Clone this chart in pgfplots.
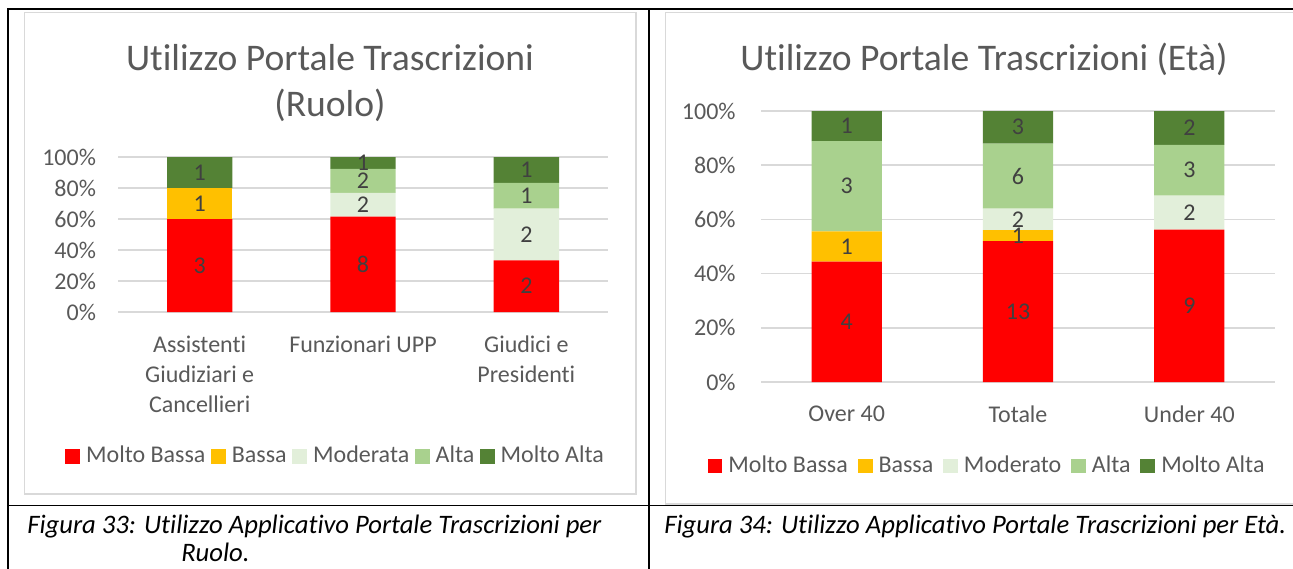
\documentclass[border=0pt]{standalone}
\usepackage{pgfplots}
\pgfplotsset{compat=1.18}
\usepackage{pgfplotstable}
\usepackage{fontspec}
\setmainfont{Carlito}[Ligatures={NoCommon}]
\definecolor{cMB}{HTML}{FF0000}
\definecolor{cB}{HTML}{FFC000}
\definecolor{cMod}{HTML}{E2EFDA}
\definecolor{cA}{HTML}{A9D18E}
\definecolor{cMA}{HTML}{548235}
\definecolor{gridgray}{HTML}{D9D9D9}
\definecolor{txtgray}{HTML}{595959}
\definecolor{lblgray}{HTML}{404040}
\newcommand\lbl{\fontsize{18}{22.5}\selectfont}

\pgfplotstableread{
x MB B Mod A MA Tot
0 3 1 0 0 1 5
1 8 0 2 2 1 13
2 2 0 2 1 1 6
}\ruolo
\pgfplotstableread{
x MB B Mod A MA Tot
0 4 1 0 3 1 9
1 13 1 2 6 3 25
2 9 0 2 3 2 16
}\eta

\pgfplotsset{
  mystack/.style={
    scale only axis,
    ybar stacked,
    xmin=-0.5, xmax=2.5, ymin=0, ymax=100,
    xtick={0,1,2},
    ytick={0,20,...,100},
    yticklabel={\pgfmathprintnumber{\tick}\%},
    /pgf/number format/assume math mode=true,
    ymajorgrids,
    grid style={draw=gridgray, line width=1.1pt},
    axis line style={draw=none},
    tick style={draw=none},
    ticklabel style={font=\lbl, text=txtgray},
    xticklabel style={align=center, yshift=-14.5pt},
    nodes near coords,
    every node near coord/.style={font=\lbl, text=lblgray, anchor=center,
      check for zero/.code={\pgfmathfloatifflags{\pgfplotspointmeta}{0}{\pgfkeys{/tikz/coordinate}}{}},
      check for zero},
    legend columns=5,
    legend image code/.code={\fill[##1] (0pt,-5.6pt) rectangle (11.2pt,5.6pt);},
    legend style={draw=none, fill=none, font=\lbl, text=txtgray,
      nodes={inner xsep=4.5pt, inner ysep=1pt, text height=12.5pt, text depth=3.5pt}},
  },
  seg/.style n args={2}{fill=#2, draw=none, point meta=\thisrow{#1}},
}

\begin{document}
\begin{tikzpicture}
\begin{scope}[x=0.75pt, y=-0.75pt]
\useasboundingbox (0,0) rectangle (1293,568);
% chart frames
\draw[gridgray, line width=1.1pt] (24.5,12.5) rectangle (636,494);
\draw[gridgray, line width=1.1pt] (1310,12.5) -- (665.7,12.5) -- (665.7,504) -- (1310,504);
% table lines
\draw[black, line width=1.5pt] (7,8.5) -- (1300,8.5);
\draw[black, line width=1.5pt] (7.5,8) -- (7.5,575);
\draw[black, line width=1.5pt] (649,8) -- (649,575);
\draw[black, line width=1.1pt] (7,505.7) -- (1300,505.7);
% titles
\node[anchor=base, font=\fontsize{28.2}{33}\selectfont, text=txtgray] at (330,70) {Utilizzo Portale Trascrizioni};
\node[anchor=base, font=\fontsize{28.2}{33}\selectfont, text=txtgray] at (330,116) {(Ruolo)};
\node[anchor=base, font=\fontsize{28.2}{33}\selectfont, text=txtgray] at (984,70) {Utilizzo Portale Trascrizioni (Età)};
% captions
\node[anchor=base west, inner sep=0pt, font=\fontsize{20}{24}\selectfont\itshape] at (27,533) {Figura 33: Utilizzo Applicativo Portale Trascrizioni per};
\node[anchor=base west, inner sep=0pt, font=\fontsize{20}{24}\selectfont\itshape] at (181,561) {Ruolo.};
\node[anchor=base west, inner sep=0pt, font=\fontsize{20}{24}\selectfont\itshape] at (664,533) {Figura 34: Utilizzo Applicativo Portale Trascrizioni per Età.};
\end{scope}

\begin{axis}[mystack,
  at={(88.5pt,-234pt)}, anchor=south west,
  width=367.5pt, height=116.25pt,
  bar width=0.4,
  xticklabels={{Assistenti\\Giudiziari e\\Cancellieri},{Funzionari UPP},{Giudici e\\Presidenti}},
  yticklabel style={xshift=-13pt},
  legend style={at={(0.448,-0.93)}, anchor=center,
    /tikz/every even column/.append style={column sep=-0.4pt}},
]
\addplot[seg={MB}{cMB}] table[x=x, y expr=\thisrow{MB}/\thisrow{Tot}*100] {\ruolo};
\addplot[seg={B}{cB}] table[x=x, y expr=\thisrow{B}/\thisrow{Tot}*100] {\ruolo};
\addplot[seg={Mod}{cMod}] table[x=x, y expr=\thisrow{Mod}/\thisrow{Tot}*100] {\ruolo};
\addplot[seg={A}{cA}] table[x=x, y expr=\thisrow{A}/\thisrow{Tot}*100] {\ruolo};
\addplot[seg={MA}{cMA}] table[x=x, y expr=\thisrow{MA}/\thisrow{Tot}*100] {\ruolo};
\legend{Molto Bassa, Bassa, Moderata, Alta, Molto Alta}
\end{axis}

\begin{axis}[mystack,
  at={(570.75pt,-286.5pt)}, anchor=south west,
  width=385.5pt, height=203.25pt,
  bar width=0.41,
  xticklabels={Over 40, Totale, Under 40},
  yticklabel style={xshift=-15.5pt},
  legend style={at={(0.4436,-0.31)}, anchor=center,
    /tikz/every even column/.append style={column sep=2.8pt}},
]
\addplot[seg={MB}{cMB}] table[x=x, y expr=\thisrow{MB}/\thisrow{Tot}*100] {\eta};
\addplot[seg={B}{cB}] table[x=x, y expr=\thisrow{B}/\thisrow{Tot}*100] {\eta};
\addplot[seg={Mod}{cMod}] table[x=x, y expr=\thisrow{Mod}/\thisrow{Tot}*100] {\eta};
\addplot[seg={A}{cA}] table[x=x, y expr=\thisrow{A}/\thisrow{Tot}*100] {\eta};
\addplot[seg={MA}{cMA}] table[x=x, y expr=\thisrow{MA}/\thisrow{Tot}*100] {\eta};
\legend{Molto Bassa, Bassa, Moderato, Alta, Molto Alta}
\end{axis}
\end{tikzpicture}
\end{document}
